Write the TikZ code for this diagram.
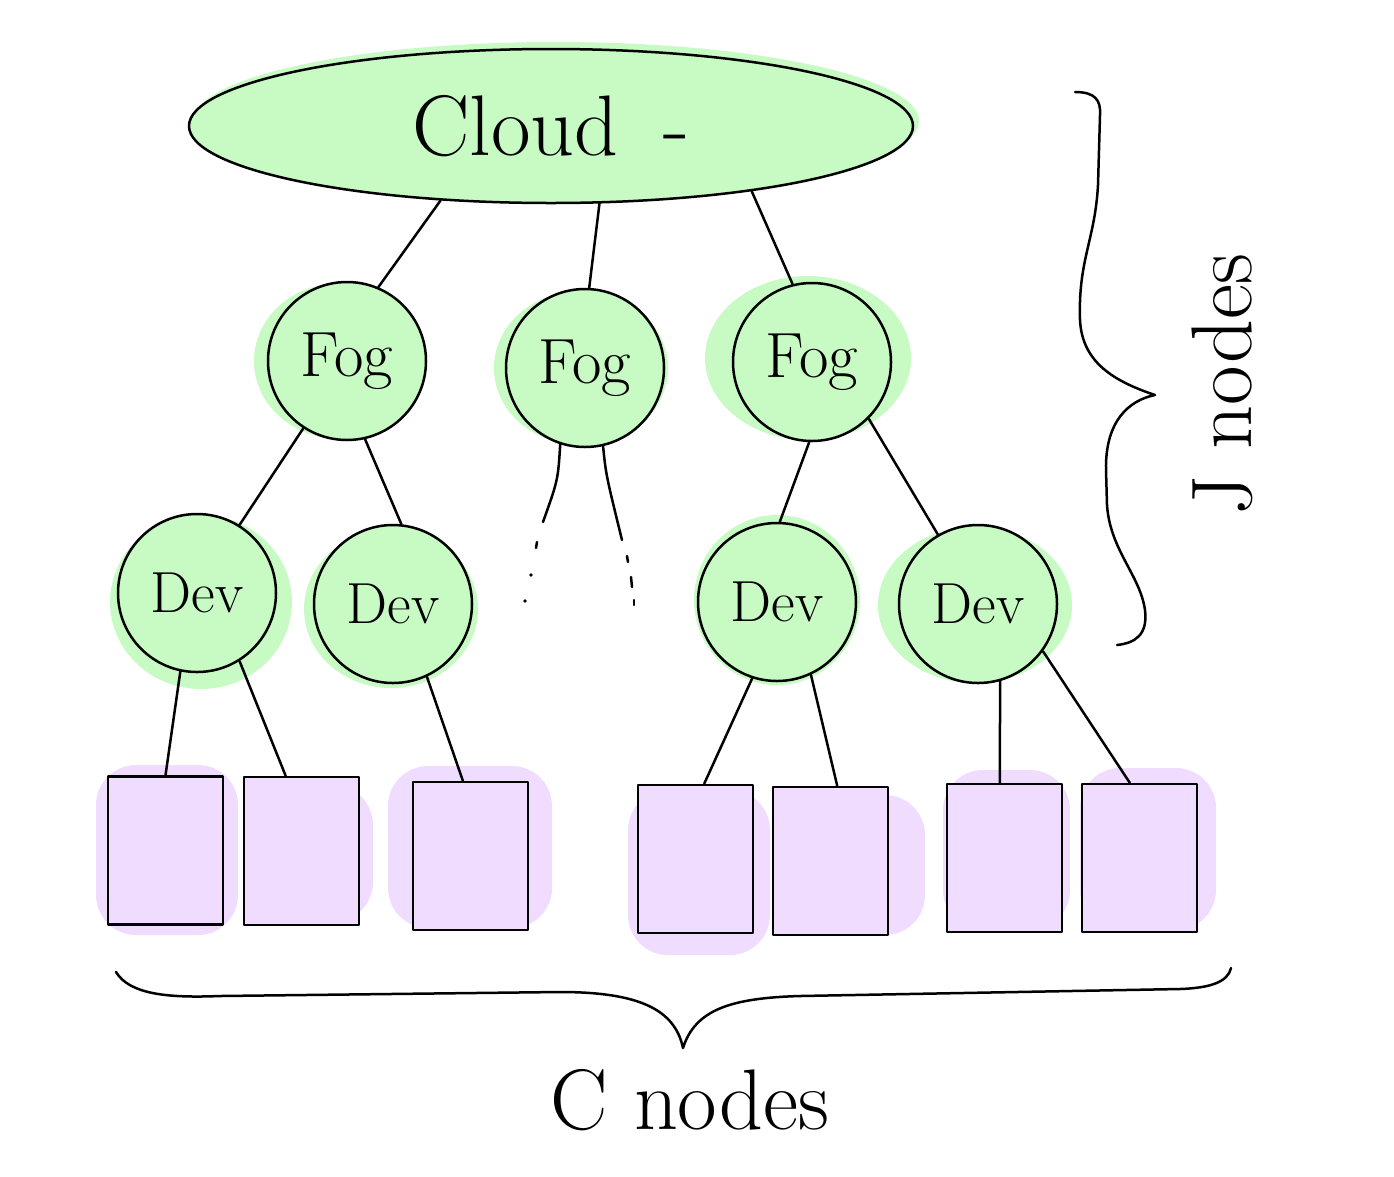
\documentclass[tikz,border=0pt]{standalone}
\usetikzlibrary{shapes.geometric,calc}
\definecolor{leaf}{RGB}{200,250,196}
\definecolor{lilac}{RGB}{240,220,255}
\begin{document}
\begin{tikzpicture}[x=1pt,y=-1pt, line width=2.5pt, line cap=round, line join=round,
  hub/.style={circle, draw, line width=2.5pt, fill=leaf, minimum size=158pt, inner sep=0pt},
  foglbl/.style={font=\fontsize{64}{64}\selectfont},
  devlbl/.style={font=\fontsize{58}{58}\selectfont},
  leafbox/.style={rectangle, draw, line width=2.5pt, fill=lilac, minimum width=115pt, minimum height=148pt, inner sep=0pt},
  gblob/.style={fill=leaf, draw=none},
  pblob/.style={fill=lilac, draw=none, rounded corners=40pt},
  link/.style={draw, line width=2.5pt},
  brace/.style={draw, line width=2.5pt},
  bigtext/.style={font=\fontsize{86}{86}\selectfont}]
\useasboundingbox (0,0) rectangle (1394,1176);

% ---- green blobs (background marker strokes)
\fill[gblob] (556,121) ellipse [x radius=363pt, y radius=79pt];
\fill[gblob] (340,361) ellipse [x radius=86pt, y radius=78pt];
\fill[gblob] (581,368) ellipse [x radius=87pt, y radius=77pt];
\fill[gblob] (808,358) ellipse [x radius=103pt, y radius=82pt];
\fill[gblob] (201,602) ellipse [x radius=91pt, y radius=87pt];
\fill[gblob] (391,609) ellipse [x radius=87pt, y radius=79pt];
\fill[gblob] (777,600) ellipse [x radius=83pt, y radius=85pt];
\fill[gblob] (975,605) ellipse [x radius=97pt, y radius=78pt];

% ---- purple blobs
\fill[pblob] (96,765) rectangle (238,935);
\fill[pblob] (250,785) rectangle (373,922);
\fill[pblob] (388,766) rectangle (552,928);
\fill[pblob] (628,790) rectangle (770,955);
\fill[pblob] (777,795) rectangle (925,935);
\fill[pblob] (943,770) rectangle (1070,930);
\fill[pblob] (1080,768) rectangle (1216,930);

% ---- nodes
\node[ellipse, draw, line width=2.5pt, fill=leaf, minimum width=724pt, minimum height=154pt, inner sep=0pt, bigtext]
  (cloud) at (551,126) {Cloud\hspace{45pt}-};

\node[hub, foglbl] (fog1) at (347,361) {Fog};
\node[hub, foglbl] (fog2) at (585,368) {Fog};
\node[hub, foglbl] (fog3) at (812,362) {Fog};

\node[hub, devlbl] (dev1) at (197,593) {Dev};
\node[hub, devlbl] (dev2) at (393,604) {Dev};
\node[hub, devlbl] (dev3) at (777,602) {Dev};
\node[hub, devlbl] (dev4) at (978,604) {Dev};

\node[leafbox] (r1) at (165.5,850.5) {};
\node[leafbox] (r2) at (301.5,851) {};
\node[leafbox] (r3) at (470.5,856) {};
\node[leafbox] (r4) at (695.5,859) {};
\node[leafbox] (r5) at (830.5,861) {};
\node[leafbox] (r6) at (1004.5,858) {};
\node[leafbox] (r7) at (1139.5,858) {};

% ---- connectors
\draw[link] (cloud.214.9) -- (fog1.67);
\draw[link] (cloud.302.5) -- (fog2.87);
\draw[link] (cloud.342.3) -- (fog3.104);

\draw[link] (fog1.237.4) -- (dev1.58);
\draw[link] (fog1.283.5) -- (dev2.84);
\draw[link] (fog3.268.7) -- (dev3.88);
\draw[link] (fog3.315.5) -- (dev4.120);

\draw[link] (dev1.258) -- (r1.north);
\draw[link] (dev1.302.5) -- ($(r2.north west)!.365!(r2.north east)$);
\draw[link] (dev2.295) -- ($(r3.north west)!.435!(r3.north east)$);
\draw[link] (dev3.252) -- ($(r4.north west)!.574!(r4.north east)$);
\draw[link] (dev3.295) -- ($(r5.north west)!.557!(r5.north east)$);
\draw[link] (dev4.286) -- ($(r6.north west)!.46!(r6.north east)$);
\draw[link] (dev4.324) -- ($(r7.north west)!.417!(r7.north east)$);

% ---- fog2 fading legs
\coordinate (legL) at (543,522);
\coordinate (legR) at (622,540);
\draw[link] (fog2.252) .. controls (558,480) .. (legL);
\draw[link] (fog2.283) .. controls (606,475) .. (legR);
\draw[link] (537,542) -- (536,548);
\fill (531,575) circle (1.8pt);
\fill (525,601) circle (1.8pt);
\draw[link] (627,556) -- (628,562);
\draw[link] (631,577) -- (632,587);
\draw[link] (634,600) -- (634,605);

% ---- right brace
\draw[brace] (1075,92) .. controls (1095,92) and (1101,100) .. (1100,115)
  -- (1098,185)
  .. controls (1095,240) and (1078,260) .. (1080,320)
  .. controls (1082,360) and (1110,380) .. (1155,395)
  .. controls (1130,400) and (1105,420) .. (1106,470)
  -- (1107,505)
  .. controls (1110,550) and (1140,575) .. (1145,610)
  .. controls (1148,635) and (1135,643) .. (1117,645);
\node[bigtext, rotate=90] (jlbl) at (1222,385) {J nodes};

% ---- bottom brace
\draw[brace] (116,972) .. controls (130,995) and (170,998) .. (220,996)
  -- (560,992)
  .. controls (640,992) and (675,1010) .. (683,1048)
  .. controls (695,1010) and (730,998) .. (800,996)
  -- (1180,989)
  .. controls (1210,988) and (1228,982) .. (1231,968);
\node[bigtext] (clbl) at (690,1100) {C nodes};
\end{tikzpicture}
\end{document}
